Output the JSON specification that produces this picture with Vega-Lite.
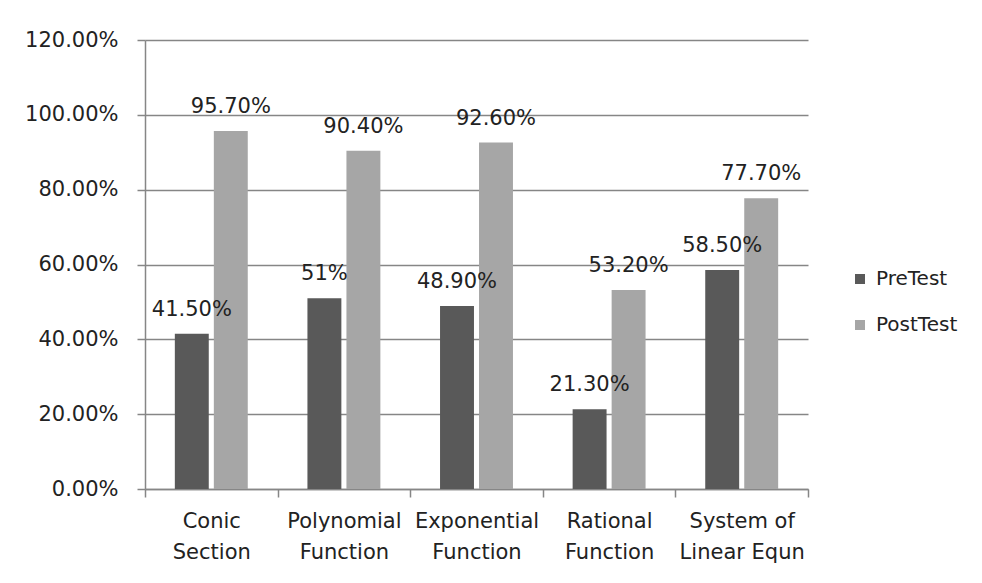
{
  "$schema": "https://vega.github.io/schema/vega-lite/v6.json",
  "autosize": {"type": "none"},
  "width": 663,
  "height": 449,
  "padding": {"left": 145, "top": 40, "right": 174, "bottom": 94},
  "background": "white",
  "config": {
    "view": {"stroke": null},
    "font": "DejaVu Sans",
    "text": {"font": "DejaVu Sans"}
  },
  "data": {
    "values": [
      {"topic": "Conic Section", "test": "PreTest", "score": 0.415, "label": "41.50%"},
      {"topic": "Conic Section", "test": "PostTest", "score": 0.957, "label": "95.70%"},
      {"topic": "Polynomial Function", "test": "PreTest", "score": 0.51, "label": "51%"},
      {"topic": "Polynomial Function", "test": "PostTest", "score": 0.904, "label": "90.40%"},
      {"topic": "Exponential Function", "test": "PreTest", "score": 0.489, "label": "48.90%"},
      {"topic": "Exponential Function", "test": "PostTest", "score": 0.926, "label": "92.60%"},
      {"topic": "Rational Function", "test": "PreTest", "score": 0.213, "label": "21.30%"},
      {"topic": "Rational Function", "test": "PostTest", "score": 0.532, "label": "53.20%"},
      {"topic": "System of Linear Equn", "test": "PreTest", "score": 0.585, "label": "58.50%"},
      {"topic": "System of Linear Equn", "test": "PostTest", "score": 0.777, "label": "77.70%"}
    ]
  },
  "encoding": {
    "x": {
      "field": "topic",
      "type": "nominal",
      "sort": null,
      "scale": {"paddingInner": 0, "paddingOuter": 0},
      "axis": {
        "title": null,
        "labelAngle": 0,
        "tickBand": "extent",
        "tickSize": 8,
        "tickColor": "#868686",
        "domainColor": "#868686",
        "domainWidth": 1.5,
        "tickWidth": 1.5,
        "labelFont": "DejaVu Sans",
        "labelFontSize": 21,
        "labelColor": "#222222",
        "labelPadding": 13,
        "labelLineHeight": 31,
        "labelExpr": "!isValid(datum.value) ? '' : datum.value == 'System of Linear Equn' ? ['System of', 'Linear Equn'] : split(datum.value, ' ')"
      }
    },
    "xOffset": {"field": "test", "type": "nominal", "sort": ["PreTest", "PostTest"], "scale": {"paddingInner": 0.13, "paddingOuter": 0.765}},
    "y": {
      "field": "score",
      "type": "quantitative",
      "scale": {"domain": [0, 1.2], "nice": false},
      "axis": {
        "title": null,
        "format": ".2%",
        "values": [0, 0.2, 0.4, 0.6, 0.8, 1.0, 1.2],
        "grid": true,
        "gridColor": "#868686",
        "gridWidth": 1.5,
        "domainColor": "#868686",
        "domainWidth": 1.5,
        "tickColor": "#868686",
        "tickWidth": 1.5,
        "tickSize": 8,
        "labelPadding": 19,
        "labelFont": "DejaVu Sans",
        "labelFontSize": 21,
        "labelColor": "#222222"
      }
    }
  },
  "layer": [
    {
      "mark": {"type": "bar"},
      "encoding": {
        "color": {
          "field": "test",
          "type": "nominal",
          "sort": ["PreTest", "PostTest"],
          "scale": {"domain": ["PreTest", "PostTest"], "range": ["#595959", "#a6a6a6"]},
          "legend": {
            "title": null,
            "orient": "none",
            "legendX": 705,
            "legendY": 229,
            "symbolType": "square",
            "symbolSize": 100,
            "symbolStrokeWidth": 0,
            "labelFont": "DejaVu Sans",
            "labelFontSize": 20,
            "labelColor": "#222222",
            "rowPadding": 26,
            "labelOffset": 6
          }
        }
      }
    },
    {
      "mark": {"type": "text", "baseline": "alphabetic", "dy": -18, "fontSize": 21, "color": "#222222"},
      "encoding": {"text": {"field": "label"}}
    }
  ]
}
